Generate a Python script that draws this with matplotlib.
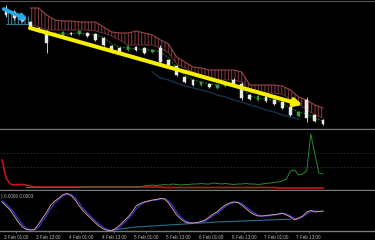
import numpy as np
import matplotlib
matplotlib.use("Agg")
import matplotlib.pyplot as plt

# ---------------- data ----------------
# candles (3h bars)
opens  = [1.3092, 1.3088, 1.3083, 1.3078, 1.3072, 1.3069, 1.3065, 1.3065, 1.3067, 1.3066,
          1.3067, 1.3066, 1.3062, 1.3054, 1.3052, 1.3050, 1.3053, 1.3052, 1.3048, 1.3052,
          1.3040, 1.3034, 1.3023, 1.3020, 1.3015, 1.3016, 1.3012, 1.3014, 1.3020, 1.3016,
          1.3005, 1.3000, 1.3003, 1.3000, 1.2998, 1.2993, 1.2984, 1.3000, 1.2985, 1.2980]
closes = [1.3085, 1.3082, 1.3079, 1.3073, 1.3069, 1.3057, 1.3067, 1.3068, 1.3066, 1.3069,
          1.3064, 1.3060, 1.3055, 1.3048, 1.3047, 1.3054, 1.3050, 1.3047, 1.3050, 1.3038,
          1.3035, 1.3025, 1.3018, 1.3015, 1.3018, 1.3013, 1.3015, 1.3016, 1.3016, 1.3002,
          1.3001, 1.3004, 1.2999, 1.2996, 1.2992, 1.2985, 1.2988, 1.2982, 1.2979, 1.2976]
highs  = [1.3095, 1.3090, 1.3084, 1.3079, 1.3073, 1.3070, 1.3068, 1.3069, 1.3068, 1.3070,
          1.3068, 1.3067, 1.3063, 1.3055, 1.3053, 1.3055, 1.3054, 1.3053, 1.3051, 1.3055,
          1.3041, 1.3035, 1.3024, 1.3021, 1.3019, 1.3017, 1.3016, 1.3017, 1.3022, 1.3018,
          1.3006, 1.3005, 1.3004, 1.3001, 1.2999, 1.2994, 1.2989, 1.3003, 1.2986, 1.2981]
lows   = [1.3083, 1.3080, 1.3078, 1.3072, 1.3068, 1.3047, 1.3064, 1.3064, 1.3065, 1.3065,
          1.3063, 1.3059, 1.3054, 1.3047, 1.3046, 1.3049, 1.3049, 1.3046, 1.3047, 1.3037,
          1.3034, 1.3024, 1.3017, 1.3014, 1.3014, 1.3012, 1.3011, 1.3013, 1.3015, 1.3000,
          1.3000, 1.2999, 1.2998, 1.2995, 1.2991, 1.2984, 1.2983, 1.2978, 1.2978, 1.2975]

# bullish kumo (first bars)
kumo_up_bars = [0, 1, 2, 3]
kumo_up_top = [1.3092, 1.3089, 1.3086, 1.3083]
kumo_up_bot = [1.3076, 1.3076, 1.3076, 1.3076]

# bearish kumo
kumo_dn_bars = list(range(3, 40))
kumo_dn_top = [1.3092, 1.3092, 1.3085, 1.3080, 1.3079, 1.3079, 1.3078, 1.3078, 1.3078, 1.3073,
               1.3068, 1.3067, 1.3067, 1.3069, 1.3067, 1.3065, 1.3060, 1.3056, 1.3043, 1.3038,
               1.3033, 1.3032, 1.3030, 1.3030, 1.3030, 1.3030, 1.3028, 1.3015, 1.3015, 1.3015,
               1.3015, 1.3014, 1.3010, 1.3003, 1.3000, 1.2995, 1.2992]
kumo_dn_bot = [1.3075, 1.3073, 1.3070, 1.3070, 1.3070, 1.3070, 1.3070, 1.3070, 1.3069, 1.3067,
               1.3064, 1.3060, 1.3055, 1.3055, 1.3055, 1.3055, 1.3052, 1.3047, 1.3036, 1.3032,
               1.3028, 1.3025, 1.3022, 1.3020, 1.3020, 1.3020, 1.3018, 1.3008, 1.3007, 1.3007,
               1.3007, 1.3006, 1.3000, 1.2996, 1.2990, 1.2985, 1.2982]

# kijun-like green line
kijun_bars = list(range(3, 40))
kijun = [1.3072, 1.3070, 1.3067, 1.3066, 1.3066, 1.3066, 1.3067, 1.3066, 1.3065, 1.3063,
         1.3056, 1.3053, 1.3052, 1.3051, 1.3050, 1.3050, 1.3048, 1.3042, 1.3032, 1.3025,
         1.3020, 1.3018, 1.3016, 1.3015, 1.3015, 1.3016, 1.3012, 1.3004, 1.3002, 1.3001,
         1.3000, 1.2997, 1.2992, 1.2988, 1.2986, 1.2982, 1.2979]

# dark lower line
lower_bars = list(range(18, 37))
lower_line = [1.3028, 1.3022, 1.3020, 1.3017, 1.3014, 1.3012, 1.3010, 1.3008, 1.3005, 1.3003,
              1.3000, 1.2998, 1.2995, 1.2993, 1.2990, 1.2988, 1.2985, 1.2983, 1.2981]

# trend arrows (bar, price)
yellow_x = [2.94, 36.5]
yellow_y = [1.3072, 1.2995]
cyan_x = [-0.3, 2.7]
cyan_y = [1.3091, 1.3080]

# indicator panel 2 (half-bar steps)
ind_red = [30, 12, 6, 5, 5.5, 5.5, 5, 4, 3, 3,
           3, 3, 3, 3, 3, 3, 3, 3, 3, 3,
           3, 3, 3, 3, 3, 3, 3, 3, 3, 3,
           3, 3, 3, 3, 3, 3, 3, 3, 3, 3,
           2.5, 2.5, 2.5, 2.5, 2.5, 2.5, 2.5, 2.5, 2.5, 2.5,
           2.5, 2.5, 2.5, 2.5, 2.5, 2.5, 2.5, 2.5, 2.5, 2.5,
           2.5, 2.5, 2.5, 2.5, 2.5, 2.5, 2.5, 2.5, 2, 2,
           2, 2, 2, 2, 2, 2, 2, 2, 2, 2]
ind_green = [np.nan, np.nan, np.nan, np.nan, np.nan, np.nan, 2.5, 2.5, 2.5, 2.5,
             2.5, 2.5, 2.5, 2.5, 2.5, 2.5, 2.5, 2.5, 2.5, 2.5,
             3, 3, 3, 3, 3, 3, 3, 3, 3, 3,
             3, 3, 3, 3, 3, 4, 4.5, 5, 4.5, 5,
             5.5, 5, 6, 5.5, 5, 5.5, 5.5, 6, 6, 6.5,
             6, 6, 7, 6.5, 6, 6.5, 6, 5.5, 6, 6,
             6.5, 6, 6, 5.5, 6, 6.5, 7, 7.5, 8, 9,
             11, 19, 20, 15, 16, 19, 56, 36, 17, 16]
ind_levels = [23, 37]

# oscillator panel 3 (half-bar steps)
osc_main = [29, 25, 21, 15, 9, 4, 1.5, 1, 1.5, 7,
            13, 19, 26, 30, 33, 36.5, 37.5, 35.5, 31, 25,
            20, 16, 12, 8, 4.5, 2, 0.5, 0.5, 2.5, 6,
            10, 14, 19, 25, 27.5, 29, 30, 31, 31.5, 32.5,
            32, 28, 22, 16, 12, 9, 8, 8, 8.5, 9.5,
            11, 14, 17, 19.5, 23, 26, 28, 29, 28.5, 26,
            22.5, 19, 16.5, 15, 15, 15.5, 16, 16.5, 17, 18,
            16, 14, 11, 13, 15, 19, 20.5, 19, 19.5, 20]
osc_signal = [30, 27, 23, 18, 12, 6.5, 3, 1.5, 1, 4,
              10, 16, 22.5, 28, 31.5, 35, 37, 36.5, 33.5, 28,
              22.5, 18, 14, 10, 6.5, 3.5, 1.5, 0.5, 1.5, 4,
              8, 12, 16.5, 22, 26, 28.5, 29.5, 30.5, 31, 32,
              32.5, 30, 25, 19, 14, 10.5, 8.5, 8, 8, 9,
              10, 12.5, 15.5, 18, 21, 24.5, 27, 28.5, 29, 27.5,
              24.5, 21, 18, 16, 15, 15, 15.5, 16, 16.5, 17.5,
              17, 15, 12.5, 12, 14, 17, 20, 20, 19.5, 19.5]
osc_slow_bars = list(range(13, 36))
osc_slow = [0.5, 2, 3, 4, 4.5, 5, 5.5, 6, 6.5, 7, 7.5, 8, 8.5, 9, 9.3, 9.6, 10, 10.3,
            10.6, 10.9, 11.2, 11.5, 11.8]
osc_label = ") 0.0006 0.0003"

tick_pos = [1.25, 5.25, 9.25, 13.25, 17.25, 21.25, 25.25, 29.25, 33.25, 37.25]
tick_labels = ["3 Feb 01:00", "3 Feb 13:00", "4 Feb 01:00", "4 Feb 13:00", "5 Feb 01:00",
               "5 Feb 13:00", "6 Feb 01:00", "6 Feb 13:00", "7 Feb 01:00", "7 Feb 13:00"]

# ---------------- figure ----------------
W, H = 375, 240
fig = plt.figure(figsize=(W / 100, H / 100), dpi=100, facecolor="black")
plt.rcParams["hatch.linewidth"] = 0.7

def px_axes(top, bottom):
    return fig.add_axes([0, 1 - bottom / H, 1, (bottom - top) / H], facecolor="black")

ax1 = px_axes(1, 129)
ax2 = px_axes(130, 190)
ax3 = px_axes(191, 231)

xlim = (-0.75, W / 8.125 - 0.75)
grid_c = "#7a7a7a"
for ax in (ax1, ax2, ax3):
    ax.set_xlim(*xlim)
    for s in ("left", "right"):
        ax.spines[s].set_visible(False)
    ax.spines["top"].set_visible(False)
    ax.spines["bottom"].set_color(grid_c)
    ax.spines["bottom"].set_linewidth(1.0)
    ax.set_yticks([])
    ax.set_xticks([])
ax1.spines["top"].set_visible(True)
ax1.spines["top"].set_color("#555555")

# ---- main panel ----
ax1.set_ylim(1.2971, 1.3099)
bars = np.arange(len(opens))

# bullish kumo (cyan hatch)
ax1.fill_between(kumo_up_bars, kumo_up_top, kumo_up_bot, facecolor="none",
                 edgecolor="#3a8fb0", hatch="|||||", linewidth=0)
ax1.plot(kumo_up_bars, kumo_up_bot, color="#3a8fb0", lw=0.6)

# bearish kumo (red hatch)
ax1.fill_between(kumo_dn_bars, kumo_dn_top, kumo_dn_bot, facecolor="none",
                 edgecolor="#8a3c3c", hatch="|||||", linewidth=0)
ax1.plot(kumo_dn_bars, kumo_dn_top, color="#9a4545", lw=0.8)
ax1.plot(kumo_dn_bars, kumo_dn_bot, color="#7a3535", lw=0.6)

# lines
ax1.plot(lower_bars, lower_line, color="#16314a", lw=1.0)
ax1.plot(kijun_bars, kijun, color="#1f6a1f", lw=0.9, ls=(0, (1.5, 1)))

# candles
for i in bars:
    o, c, h, l = opens[i], closes[i], highs[i], lows[i]
    col = "#e8e8e8" if c < o else "#3c9a3c"
    ax1.vlines(i, l, h, color=col, lw=0.6, zorder=4)
    ax1.bar(i, abs(c - o) if abs(c - o) > 0 else 0.00005, bottom=min(o, c),
            width=0.34, color=col, edgecolor=col, lw=0.3, zorder=5)

# arrows
ax1.annotate("", xy=(yellow_x[1], yellow_y[1]), xytext=(yellow_x[0], yellow_y[0]),
             arrowprops=dict(arrowstyle="-|>", color="#f5f000", lw=2.9,
                             mutation_scale=11, shrinkA=0, shrinkB=0), zorder=6)
ax1.annotate("", xy=(cyan_x[1], cyan_y[1]), xytext=(cyan_x[0], cyan_y[0]),
             arrowprops=dict(arrowstyle="-|>", color="#2aa8e8", lw=2.6,
                             mutation_scale=8, shrinkA=0, shrinkB=0), zorder=6)

# ---- panel 2 ----
k = np.arange(len(ind_red)) * 0.5 - 0.5
ax2.set_ylim(0, 60)
for lv in ind_levels:
    ax2.axhline(lv, color="#303030", lw=0.6, ls=(0, (2, 2)))
ax2.plot(k, ind_red, color="#c01818", lw=1.2)
ax2.plot(k, ind_green, color="#2a8a2a", lw=0.7)

# ---- panel 3 ----
ax3.set_ylim(0, 40)
ax3.plot(osc_slow_bars, osc_slow, color="#2b6f8f", lw=0.8)
ax3.plot(k, osc_signal, color="#3535d0", lw=0.9)
ax3.plot(k, osc_main, color="#f0b090", lw=0.6)
ax3.text(0.002, 0.93, osc_label, transform=ax3.transAxes, color="#b0b0b0",
         fontsize=3.4, family="Liberation Sans", va="top", ha="left")

ax3.set_xticks(tick_pos)
ax3.set_xticklabels(tick_labels, family="Liberation Sans")
ax3.tick_params(axis="x", colors=grid_c, labelcolor="#b8b8b8", labelsize=3.3,
                length=1.5, width=0.5, pad=1.5)

fig.savefig("out.png", dpi=100, facecolor="black")
